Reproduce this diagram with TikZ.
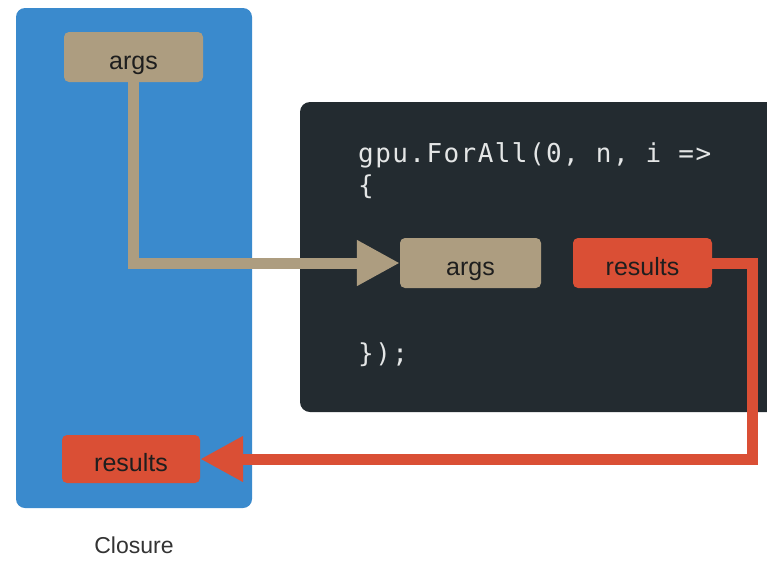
\documentclass[tikz,border=0pt]{standalone}
\usepackage{fontspec}
\setmainfont{Liberation Sans}
\newfontfamily\codefont[LetterSpace=5.5]{DejaVu Sans Mono}
\usetikzlibrary{arrows.meta}
\definecolor{cblue}{HTML}{3A8ACD}
\definecolor{ctan}{HTML}{AD9D80}
\definecolor{cdark}{HTML}{232B30}
\definecolor{cred}{HTML}{DA4F35}
\definecolor{ccode}{HTML}{E4E6E6}
\definecolor{ctext}{HTML}{1E1E1E}
\tikzset{
  box/.style={rounded corners=5pt, inner sep=0pt, text height=24pt, text depth=0pt,
    font=\fontsize{25}{28}\selectfont, text=ctext},
  tanbox/.style={box, fill=ctan},
  redbox/.style={box, fill=cred},
  codetext/.style={anchor=base west, inner sep=0pt, text=ccode, font=\codefont\fontsize{26}{30}\selectfont},
  tanline/.style={draw=ctan, line width=11pt, -{Triangle[length=43pt,width=43pt]}},
  redline/.style={draw=cred, line width=11pt, -{Triangle[length=43pt,width=43pt]}},
}
\begin{document}
\begin{tikzpicture}[x=1pt,y=-1pt]
\useasboundingbox (0,0) rectangle (767,560);
% closure panel
\fill[cblue, rounded corners=9pt] (16,8) rectangle (252,508);
% code panel
\begin{scope}
\clip (0,0) rectangle (767,560);
\fill[cdark, rounded corners=10pt] (300,102) rectangle (800,412);
\end{scope}
\node[codetext] (l1) at (358,162) {gpu.ForAll(0, n, i =>};
\node[codetext] (l2) at (358,194) {\{};
\node[codetext] (l3) at (358,362) {\});};
% boxes
\node[tanbox, minimum width=139pt, minimum height=50pt] (args1) at (133.5,57) {args};
\node[tanbox, minimum width=141pt, minimum height=50pt] (args2) at (470.5,263) {args};
\node[redbox, minimum width=139pt, minimum height=50pt] (res2) at (642.5,263) {results};
\node[redbox, minimum width=138pt, minimum height=48pt] (res1) at (131,459) {results};
% connectors
\draw[tanline] (args1.south) -- (args1.south |- args2.west) -- (args2.west);
\coordinate (turn) at (752,263);
\draw[redline] (res2.east) -- (turn) |- (res1.east);
% caption
\node[font=\fontsize{23}{26}\selectfont, text=black!80] (cap) at (134,545) {Closure};
\end{tikzpicture}
\end{document}
